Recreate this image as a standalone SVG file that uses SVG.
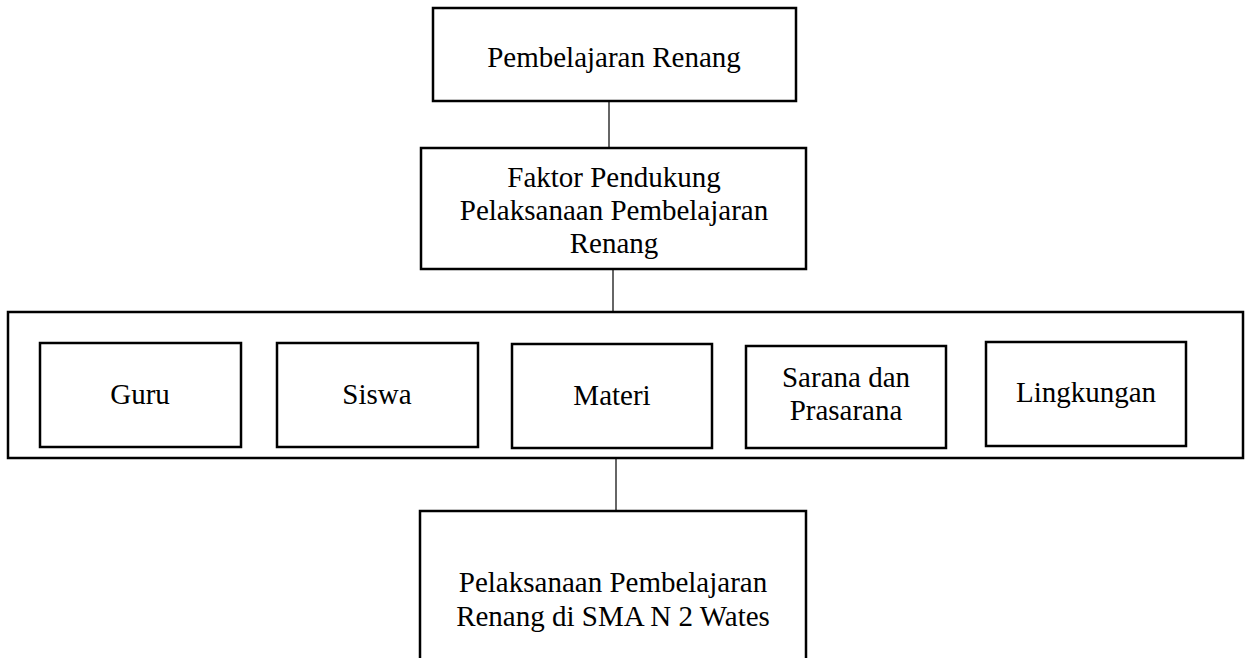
<svg xmlns="http://www.w3.org/2000/svg" width="1250" height="658" viewBox="0 0 1250 658">
<style>
.box{fill:#fff;stroke:#000;stroke-width:2.5}
.outer{fill:none;stroke:#000;stroke-width:2.5}
.conn{stroke:#333;stroke-width:1.5;fill:none}
text{font-family:"Liberation Serif","Times New Roman",serif;font-size:29px;fill:#000;text-anchor:middle}
</style>
<rect width="1250" height="658" fill="#fff"/>
<g id="connectors">
<line class="conn" x1="609" y1="101" x2="609" y2="148"/>
<line class="conn" x1="613" y1="269" x2="613" y2="312"/>
<line class="conn" x1="616" y1="458" x2="616" y2="511"/>
</g>
<g id="n-top">
<rect class="box" x="433" y="8" width="363" height="93"/>
<text x="614" y="67">Pembelajaran Renang</text>
</g>
<g id="n-faktor">
<rect class="box" x="421" y="148" width="385" height="121"/>
<text x="614" y="187">Faktor Pendukung</text>
<text x="614" y="220">Pelaksanaan Pembelajaran</text>
<text x="614" y="253">Renang</text>
</g>
<g id="n-group">
<rect class="outer" x="8" y="312" width="1235" height="146"/>
</g>
<g id="n-guru">
<rect class="box" x="40" y="343" width="201" height="104"/>
<text x="140" y="404">Guru</text>
</g>
<g id="n-siswa">
<rect class="box" x="277" y="343" width="201" height="104"/>
<text x="377" y="404">Siswa</text>
</g>
<g id="n-materi">
<rect class="box" x="512" y="344" width="200" height="104"/>
<text x="612" y="405">Materi</text>
</g>
<g id="n-sarana">
<rect class="box" x="746" y="346" width="200" height="102"/>
<text x="846" y="387">Sarana dan</text>
<text x="846" y="420">Prasarana</text>
</g>
<g id="n-lingkungan">
<rect class="box" x="986" y="342" width="200" height="104"/>
<text x="1086" y="402">Lingkungan</text>
</g>
<g id="n-bottom">
<path class="outer" d="M420,670 V511 H806 V670"/>
<text x="613" y="592">Pelaksanaan Pembelajaran</text>
<text x="613" y="626">Renang di SMA N 2 Wates</text>
</g>
</svg>
